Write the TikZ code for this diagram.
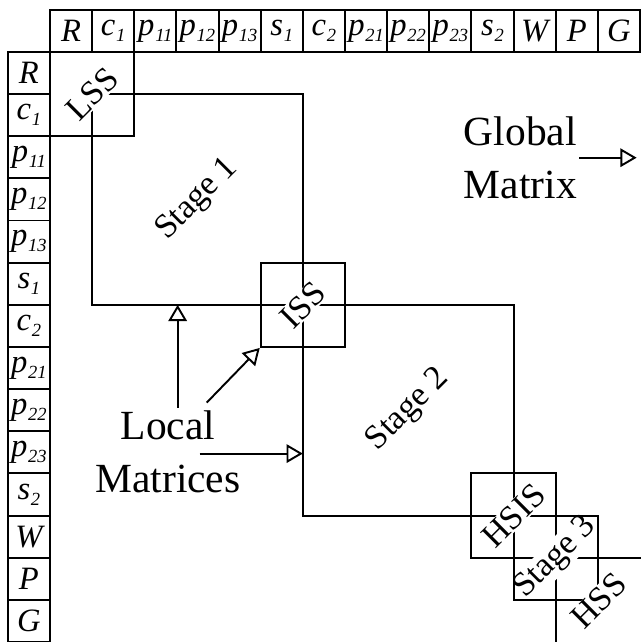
\documentclass[tikz,border=0pt]{standalone}
\usepackage{fontspec}
\setmainfont{Liberation Serif}
\usetikzlibrary{arrows.meta}

\tikzset{
  cell/.style={draw, minimum size=1cm, inner sep=0pt, font=\fontsize{22}{22}\selectfont\itshape},
  block/.style={draw, minimum size=2cm},
  tag/.style={rotate=45, fill=white, inner sep=0.5pt, font=\fontsize{23}{23}\selectfont},
  big/.style={font=\fontsize{28}{36}\selectfont, align=center, inner sep=1pt},
  pointer/.style={-{Triangle[open,length=11pt,width=12.5pt]}},
}
\newcommand{\vr}[2]{#1\kern0.5pt\raisebox{-0.4ex}{\fontsize{12.5}{12.5}\selectfont #2}}

\begin{document}
\begin{tikzpicture}[line width=1.3pt]
	\useasboundingbox (-1.185,1.232) rectangle (14,-14);
	% header row and column
	\foreach \lab [count=\i] in {R, \vr{c}{1}, \vr{p}{11}, \vr{p}{12}, \vr{p}{13}, \vr{s}{1}, \vr{c}{2}, \vr{p}{21}, \vr{p}{22}, \vr{p}{23}, \vr{s}{2}, W, P, G} {
		\node (h\i) [cell] at (\i-0.5,0.5) {\lab};
		\node (v\i) [cell] at (-0.5,0.5-\i) {\lab};
	}

	% stages, from centre to centre
	\coordinate (k1) at (1,-1);
	\coordinate (k2) at (6,-6);
	\coordinate (k3) at (11,-11);
	\coordinate (k4) at (12,-12);
	\draw (k1) rectangle (k2);
	\draw (k2) rectangle (k3);
	\draw (k3) rectangle (k4);
	\coordinate (east) at (14.3,-12);
	\coordinate (south) at (12,-14.3);
	\draw (east) -- (k4) -- (south);

	% local matrices
	\node (lss) [block] at (k1) {};
	\node (iss) [block] at (k2) {};
	\node (hsis) [block] at (k3) {};
	\node (st3) [tag] at (k4) {Stage 3};
	\node (hss) [block] at (k4) {};

	\node (lsslab) [tag] at (lss.center) {LSS};
	\node (isslab) [tag] at (iss.center) {ISS};
	\node (hsislab) [tag] at (hsis.center) {HSIS};
	\node (st1) [tag] at (3.5,-3.5) {Stage 1};
	\node (st2) [tag] at (8.5,-8.5) {Stage 2};
	\node (hsslab) [tag] at (hss.south east) {HSS};

	% captions
	\node (gm) [big] at (11.16,-2.51) {Global\\Matrix};
	\coordinate (gtip) at (13.92,-2.54);
	\draw[pointer] (gm.east) -- (gm.east -| gtip);

	\node (lm) [big] at (2.8,-9.48) {Local\\Matrices};
	\coordinate (t1) at (3.03,-6);
	\draw[pointer] (lm.north -| t1) -- (t1);
	\coordinate (l2) at (3.72,-8.32);
	\draw[pointer] (l2) -- (iss.south west);
	\coordinate (l3) at (3.55,-9.53);
	\coordinate (t3) at (6,-9.53);
	\draw[pointer] (l3) -- (t3);
\end{tikzpicture}
\end{document}
